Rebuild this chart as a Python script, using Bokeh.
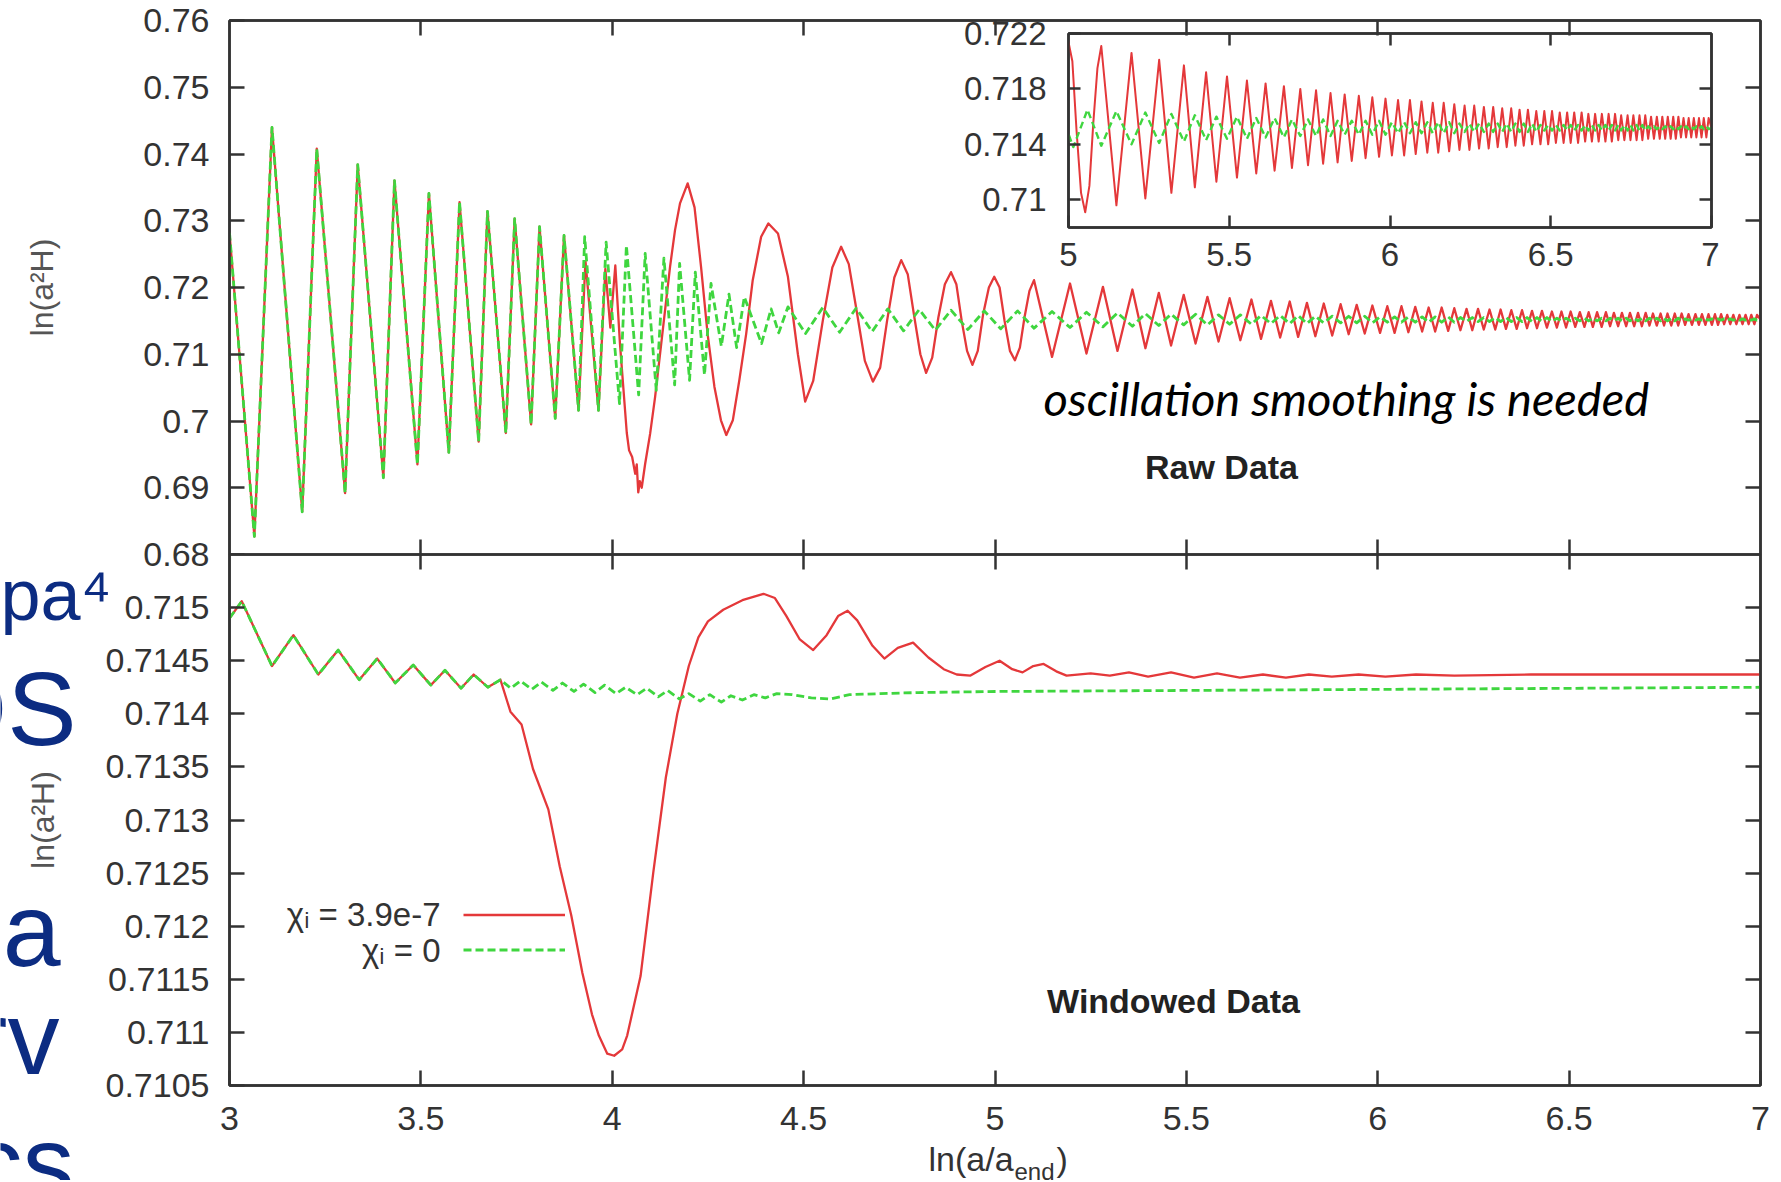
from bokeh.plotting import figure
from bokeh.models import (ColumnDataSource, FixedTicker, GridBox, Label, Legend,
                          LegendItem, LinearAxis, Range1d)
from bokeh.embed import file_html
from bokeh.resources import INLINE

# ------------------------------------------------------------------ data
# Raw data (top panel): both runs coincide up to x ~ 3.87 (extrema)
common_x = [3.000, 3.065, 3.111, 3.190, 3.228, 3.302, 3.335, 3.402, 3.431, 3.491, 3.521,
            3.573, 3.601, 3.651, 3.674, 3.722, 3.745, 3.788, 3.810, 3.851, 3.874]
common_y = [0.7282, 0.6827, 0.7440, 0.6864, 0.7408, 0.6892, 0.7384, 0.6915, 0.7360, 0.6935, 0.7341,
            0.6953, 0.7328, 0.6969, 0.7314, 0.6982, 0.7303, 0.6995, 0.7291, 0.7004, 0.7278]

# chi_i = 3.9e-7 (red) after the split
raw_red_x = [3.912, 3.930, 3.964, 3.982, 3.995, 4.008, 4.020, 4.038, 4.044, 4.052,
             4.060, 4.064, 4.068, 4.072, 4.077, 4.086, 4.099, 4.112, 4.125, 4.138,
             4.151, 4.164, 4.177, 4.197, 4.215, 4.232, 4.249, 4.267, 4.284, 4.298,
             4.315, 4.332, 4.350, 4.367, 4.389, 4.408, 4.433, 4.459, 4.485, 4.504,
             4.525, 4.550, 4.575, 4.598, 4.618, 4.640, 4.660, 4.681, 4.700, 4.718,
             4.737, 4.755, 4.772, 4.788, 4.805, 4.820, 4.836, 4.852, 4.869, 4.885,
             4.899, 4.913, 4.927, 4.941, 4.955, 4.969, 4.984, 4.998, 5.012, 5.025,
             5.039, 5.052, 5.065, 5.077, 5.090, 5.102, 5.149, 5.196, 5.239, 5.282,
             5.320, 5.359, 5.393, 5.428, 5.460, 5.493, 5.524, 5.555, 5.584, 5.613,
             5.641, 5.670, 5.695, 5.721, 5.745, 5.770, 5.792, 5.815, 5.837, 5.859]
raw_red_y = [0.7016, 0.7240, 0.7016, 0.7228, 0.7140, 0.7233, 0.7117, 0.6982, 0.6956, 0.6946,
             0.6921, 0.6935, 0.6893, 0.6910, 0.6900, 0.6936, 0.6981, 0.7036, 0.7101, 0.7166,
             0.7231, 0.7286, 0.7326, 0.7356, 0.7320, 0.7231, 0.7131, 0.7051, 0.7001, 0.6979,
             0.7001, 0.7061, 0.7131, 0.7211, 0.7276, 0.7296, 0.7281, 0.7216, 0.7100, 0.7029,
             0.7060, 0.7150, 0.7230, 0.7261, 0.7235, 0.7160, 0.7090, 0.7059, 0.7080, 0.7150,
             0.7215, 0.7241, 0.7220, 0.7160, 0.7100, 0.7072, 0.7095, 0.7155, 0.7205, 0.7223,
             0.7205, 0.7150, 0.7105, 0.7084, 0.7105, 0.7160, 0.7200, 0.7216, 0.7200, 0.7150,
             0.7105, 0.7091, 0.7110, 0.7155, 0.7195, 0.7211, 0.7096, 0.7206, 0.7101, 0.7201,
             0.7105, 0.7197, 0.7109, 0.7192, 0.7113, 0.7189, 0.7116, 0.7186, 0.7119, 0.7184,
             0.7121, 0.7182, 0.7123, 0.7180, 0.7125, 0.7179, 0.7126, 0.7177, 0.7127, 0.7176]

# chi_i = 0 (green) after the split
raw_green_x = [3.912, 3.928, 3.964, 3.984, 4.019, 4.037, 4.069, 4.086, 4.115, 4.135,
               4.163, 4.176, 4.202, 4.217, 4.241, 4.258, 4.285, 4.305, 4.325, 4.345,
               4.390, 4.415, 4.435, 4.459, 4.505, 4.550, 4.594, 4.637, 4.679, 4.720,
               4.761, 4.802, 4.844, 4.885, 4.929, 4.972, 5.015, 5.059, 5.102, 5.149,
               5.196, 5.239, 5.282, 5.320, 5.359, 5.393, 5.428, 5.460, 5.493, 5.524,
               5.555, 5.584, 5.613, 5.641, 5.670, 5.695, 5.721, 5.745, 5.770, 5.792,
               5.815, 5.837, 5.859]
raw_green_y = [0.7016, 0.7276, 0.7016, 0.7268, 0.7026, 0.7263, 0.7039, 0.7251, 0.7046, 0.7244,
               0.7054, 0.7236, 0.7061, 0.7223, 0.7069, 0.7206, 0.7112, 0.7190, 0.7110, 0.7186,
               0.7116, 0.7168, 0.7132, 0.7171, 0.7131, 0.7170, 0.7133, 0.7169, 0.7134, 0.7168,
               0.7135, 0.7167, 0.7136, 0.7166, 0.7137, 0.7165, 0.7138, 0.7165, 0.7139, 0.7164,
               0.7140, 0.7163, 0.7141, 0.7162, 0.7142, 0.7161, 0.7143, 0.7160, 0.7144, 0.7160,
               0.7144, 0.7159, 0.7145, 0.7159, 0.7145, 0.7158, 0.7146, 0.7158, 0.7146, 0.7158,
               0.7146, 0.7157, 0.7147]

# fast tail (x > 5.86): positions of the red troughs / peaks and the values of both runs there
tail_trough_x = [5.881, 5.924, 5.966, 6.006, 6.044, 6.080, 6.116, 6.150, 6.184, 6.216,
                 6.247, 6.277, 6.307, 6.335, 6.363, 6.390, 6.416, 6.442, 6.468, 6.492,
                 6.516, 6.540, 6.562, 6.585, 6.607, 6.628, 6.649, 6.670, 6.690, 6.710,
                 6.729, 6.748, 6.767, 6.785, 6.803, 6.821, 6.839, 6.856, 6.873, 6.889,
                 6.905, 6.921, 6.937, 6.953, 6.969, 6.984]
tail_peak_x = [5.903, 5.945, 5.986, 6.025, 6.062, 6.098, 6.133, 6.167, 6.200, 6.232,
               6.262, 6.292, 6.321, 6.349, 6.377, 6.403, 6.429, 6.455, 6.480, 6.504,
               6.528, 6.551, 6.573, 6.596, 6.617, 6.638, 6.659, 6.680, 6.700, 6.719,
               6.739, 6.757, 6.776, 6.794, 6.812, 6.830, 6.847, 6.864, 6.881, 6.897,
               6.913, 6.929, 6.945, 6.961, 6.976, 6.991]
red_tail_trough_y = [0.7128, 0.7130, 0.7131, 0.7132, 0.7132, 0.7133, 0.7134, 0.7134, 0.7135, 0.7136,
                     0.7136, 0.7137, 0.7137, 0.7138, 0.7138, 0.7139, 0.7139, 0.7140, 0.7140, 0.7140,
                     0.7141, 0.7141, 0.7141, 0.7141, 0.7142, 0.7142, 0.7142, 0.7142, 0.7142, 0.7143,
                     0.7143, 0.7143, 0.7143, 0.7143, 0.7144, 0.7144, 0.7144, 0.7144, 0.7144, 0.7144,
                     0.7145, 0.7145, 0.7145, 0.7145, 0.7145, 0.7145]
red_tail_peak_y = [0.7175, 0.7174, 0.7173, 0.7172, 0.7172, 0.7171, 0.7170, 0.7170, 0.7169, 0.7168,
                   0.7168, 0.7167, 0.7167, 0.7166, 0.7166, 0.7165, 0.7165, 0.7164, 0.7164, 0.7164,
                   0.7163, 0.7163, 0.7163, 0.7163, 0.7162, 0.7162, 0.7162, 0.7162, 0.7162, 0.7161,
                   0.7161, 0.7161, 0.7161, 0.7161, 0.7160, 0.7160, 0.7160, 0.7160, 0.7160, 0.7160,
                   0.7159, 0.7159, 0.7159, 0.7159, 0.7159, 0.7159]
green_tail_trough_y = [0.7157, 0.7157, 0.7157, 0.7156, 0.7156, 0.7156, 0.7156, 0.7156, 0.7156, 0.7155,
                       0.7155, 0.7155, 0.7155, 0.7155, 0.7155, 0.7155, 0.7155, 0.7155, 0.7154, 0.7154,
                       0.7154, 0.7154, 0.7154, 0.7154, 0.7154, 0.7154, 0.7154, 0.7154, 0.7154, 0.7154,
                       0.7154, 0.7154, 0.7154, 0.7154, 0.7153, 0.7153, 0.7153, 0.7153, 0.7153, 0.7153,
                       0.7153, 0.7153, 0.7153, 0.7153, 0.7153, 0.7153]
green_tail_peak_y = [0.7147, 0.7147, 0.7147, 0.7148, 0.7148, 0.7148, 0.7148, 0.7148, 0.7148, 0.7149,
                     0.7149, 0.7149, 0.7149, 0.7149, 0.7149, 0.7149, 0.7149, 0.7149, 0.7150, 0.7150,
                     0.7150, 0.7150, 0.7150, 0.7150, 0.7150, 0.7150, 0.7150, 0.7150, 0.7150, 0.7150,
                     0.7150, 0.7150, 0.7150, 0.7150, 0.7151, 0.7151, 0.7151, 0.7151, 0.7151, 0.7151,
                     0.7151, 0.7151, 0.7151, 0.7151, 0.7151, 0.7151]
raw_end_x = [7.0]
raw_red_end_y = [0.7152]
raw_green_end_y = [0.7152]

# Windowed data (bottom panel)
win_common_x = [3.000, 3.032, 3.111, 3.167, 3.232, 3.284, 3.339, 3.386, 3.433, 3.480,
                3.526, 3.563, 3.605, 3.638, 3.675, 3.708]
win_common_y = [0.71490, 0.71506, 0.71445, 0.71474, 0.71437, 0.71460, 0.71432, 0.71452, 0.71429, 0.71446,
                0.71427, 0.71441, 0.71424, 0.71437, 0.71425, 0.71432]
win_red_x = [3.734, 3.763, 3.793, 3.833, 3.863, 3.893, 3.922, 3.947, 3.965, 3.987,
             4.005, 4.026, 4.039, 4.074, 4.107, 4.140, 4.170, 4.200, 4.225, 4.250,
             4.290, 4.340, 4.395, 4.425, 4.455, 4.490, 4.525, 4.560, 4.590, 4.615,
             4.640, 4.680, 4.711, 4.746, 4.786, 4.826, 4.866, 4.900, 4.936, 4.975,
             5.012, 5.045, 5.072, 5.100, 5.127, 5.160, 5.187, 5.250, 5.300, 5.350,
             5.400, 5.460, 5.520, 5.580, 5.640, 5.700, 5.760, 5.820, 5.880, 5.950,
             6.020, 6.100, 6.200, 6.400, 7.000]
win_red_y = [0.71402, 0.71390, 0.71348, 0.71310, 0.71256, 0.71210, 0.71156, 0.71117, 0.71097, 0.71080,
             0.71078, 0.71084, 0.71097, 0.71153, 0.71250, 0.71340, 0.71400, 0.71445, 0.71472, 0.71487,
             0.71498, 0.71507, 0.71513, 0.71509, 0.71492, 0.71470, 0.71460, 0.71474, 0.71492, 0.71497,
             0.71488, 0.71464, 0.71452, 0.71462, 0.71467, 0.71453, 0.71442, 0.71437, 0.71436, 0.71444,
             0.71450, 0.71442, 0.71439, 0.71445, 0.71447, 0.71440, 0.71436, 0.71438, 0.71436, 0.71439,
             0.71435, 0.71439, 0.71434, 0.71438, 0.71434, 0.71437, 0.71434, 0.71437, 0.71435, 0.71437,
             0.71435, 0.71437, 0.71436, 0.71437, 0.71437]
win_green_x = [3.735, 3.760, 3.790, 3.815, 3.845, 3.870, 3.900, 3.925, 3.955, 3.980,
               4.010, 4.035, 4.065, 4.090, 4.120, 4.145, 4.175, 4.200, 4.230, 4.255,
               4.285, 4.310, 4.340, 4.370, 4.400, 4.430, 4.470, 4.520, 4.570, 4.620,
               4.700, 4.800, 5.000, 5.500, 6.000, 6.500, 7.000]
win_green_y = [0.71424, 0.71431, 0.71423, 0.71430, 0.71422, 0.71429, 0.71421, 0.71428, 0.71420, 0.71427,
               0.71419, 0.71425, 0.71418, 0.71424, 0.71416, 0.71422, 0.71414, 0.71419, 0.71412, 0.71418,
               0.71411, 0.71417, 0.71413, 0.71418, 0.71415, 0.71419, 0.71418, 0.71415, 0.71414, 0.71418,
               0.71419, 0.71420, 0.71421, 0.71422, 0.71423, 0.71424, 0.71425]

# ticks and labels
x_ticks = [3, 3.5, 4, 4.5, 5, 5.5, 6, 6.5, 7]
x_tick_labels = ["3", "3.5", "4", "4.5", "5", "5.5", "6", "6.5", "7"]
raw_y_ticks = [0.68, 0.69, 0.70, 0.71, 0.72, 0.73, 0.74, 0.75, 0.76]
raw_y_labels = ["0.68", "0.69", "0.7", "0.71", "0.72", "0.73", "0.74", "0.75", "0.76"]
win_y_ticks = [0.7105, 0.711, 0.7115, 0.712, 0.7125, 0.713, 0.7135, 0.714, 0.7145, 0.715]
win_y_labels = ["0.7105", "0.711", "0.7115", "0.712", "0.7125", "0.713", "0.7135", "0.714", "0.7145", "0.715"]
inset_x_ticks = [5, 5.5, 6, 6.5, 7]
inset_x_labels = ["5", "5.5", "6", "6.5", "7"]
inset_y_ticks = [0.71, 0.714, 0.718, 0.722]
inset_y_labels = ["0.71", "0.714", "0.718", "0.722"]
legend_labels = ["χᵢ = 3.9e-7", "χᵢ = 0"]

# ------------------------------------------------------------------ geometry (page pixels)
PAGE_W, PAGE_H = 1780, 1180
FRAME_L, FRAME_R = 229, 1760
TOP_T, MID, BOT_B = 20, 554, 1085
INS_L, INS_R, INS_T, INS_B = 1068, 1711, 33, 227
INS_BL, INS_BT, INS_BR, INS_BB = 110, 21, 8, 58
TOP_BB = 20

RED = "#e4383a"
GREEN = "#3fd63f"
AXC = "#333333"
FONT = "Liberation Sans"
NAVY = "#0c2c82"


def merged(xa, ya, xb, yb):
    pts = sorted(zip(list(xa) + list(xb), list(ya) + list(yb)))
    return [p[0] for p in pts], [p[1] for p in pts]


tail_x, red_tail_y = merged(tail_trough_x, red_tail_trough_y, tail_peak_x, red_tail_peak_y)
_, green_tail_y = merged(tail_trough_x, green_tail_trough_y, tail_peak_x, green_tail_peak_y)

raw_red = dict(x=common_x + raw_red_x + tail_x + raw_end_x,
               y=common_y + raw_red_y + red_tail_y + raw_red_end_y)
raw_green = dict(x=common_x + raw_green_x + tail_x + raw_end_x,
                 y=common_y + raw_green_y + green_tail_y + raw_green_end_y)
win_red = dict(x=win_common_x + win_red_x, y=win_common_y + win_red_y)
win_green = dict(x=win_common_x + win_green_x, y=win_common_y + win_green_y)


def style_axis(ax, ticks, labels=None, size="34px", standoff=20, tick_len=15):
    ax.ticker = FixedTicker(ticks=ticks)
    ax.axis_line_color = AXC
    ax.axis_line_width = 2.5
    ax.major_tick_line_color = AXC
    ax.major_tick_line_width = 2.5
    ax.major_tick_in = tick_len
    ax.major_tick_out = 0
    ax.minor_tick_line_color = None
    ax.major_label_text_font = FONT
    ax.major_label_text_font_size = size
    if labels is None:
        ax.major_label_text_color = None      # mirrored ticks only, no labels
        ax.major_label_standoff = 0
    else:
        ax.major_label_text_color = "#333333"
        ax.major_label_overrides = dict(zip(ticks, labels))
        ax.major_label_standoff = standoff


def make_fig(xr, yr, fw, fh, bl, bt, br, bb, bg="white", border=None):
    f = figure(x_range=Range1d(*xr), y_range=Range1d(*yr), frame_width=fw, frame_height=fh,
               min_border_left=bl, min_border_top=bt, min_border_right=br, min_border_bottom=bb,
               output_backend="svg", toolbar_location=None,
               background_fill_color=bg, border_fill_color=border,
               outline_line_color=AXC, outline_line_width=2.5)
    f.grid.visible = False
    return f


def y_label(ax, standoff):
    ax.axis_label = "ln(a²H)"
    ax.axis_label_text_font = FONT
    ax.axis_label_text_font_style = "normal"
    ax.axis_label_text_font_size = "32px"
    ax.axis_label_text_color = "#555555"
    ax.axis_label_standoff = standoff


def add_label(fig, conv, px, py, text, **kw):
    x, y = conv(px, py)
    opts = dict(text_font=FONT, text_font_size="34px", text_color="#222222",
                text_align="left", text_baseline="middle")
    opts.update(kw)
    fig.add_layout(Label(x=x, y=y, text=text, **opts))


def top_xy(px, py):
    return (3 + (px - FRAME_L) / (FRAME_R - FRAME_L) * 4,
            0.76 - (py - TOP_T) / (MID - TOP_T) * 0.08)


def bot_xy(px, py):
    return (3 + (px - FRAME_L) / (FRAME_R - FRAME_L) * 4,
            0.7155 - (py - MID) / (BOT_B - MID) * 0.005)


def page_xy(px, py):
    return px, PAGE_H - py


# ------------------------------------------------------------------ top panel (raw)
top = make_fig((3, 7), (0.68, 0.76), FRAME_R - FRAME_L, MID - TOP_T,
               FRAME_L, TOP_T, PAGE_W - FRAME_R, TOP_BB, border="white")
top.line("x", "y", source=ColumnDataSource(raw_red), color=RED, line_width=2.3, line_join="round")
top.line("x", "y", source=ColumnDataSource(raw_green), color=GREEN, line_width=2.8,
         line_dash="8 4", line_join="round")
style_axis(top.left[0], raw_y_ticks, raw_y_labels)
style_axis(top.below[0], x_ticks[1:-1])
ax_r = LinearAxis()
style_axis(ax_r, raw_y_ticks[1:-1])
top.add_layout(ax_r, "right")
ax_t = LinearAxis()
style_axis(ax_t, x_ticks[1:-1])
top.add_layout(ax_t, "above")
y_label(top.left[0], 80)

add_label(top, top_xy, 1043, 397, "oscillation smoothing is needed", text_font="Lato",
          text_font_style="italic", text_font_size="47px", text_color="black")
add_label(top, top_xy, 1221, 466, "Raw Data", text_font_style="bold", text_align="center")

# ------------------------------------------------------------------ bottom panel (windowed)
bot = make_fig((3, 7), (0.7105, 0.7155), FRAME_R - FRAME_L, BOT_B - MID,
               FRAME_L, 0, PAGE_W - FRAME_R, PAGE_H - BOT_B)
r_red = bot.line("x", "y", source=ColumnDataSource(win_red), color=RED, line_width=2.3,
                 line_join="round")
r_green = bot.line("x", "y", source=ColumnDataSource(win_green), color=GREEN, line_width=2.8,
                   line_dash="8 4", line_join="round")
style_axis(bot.left[0], win_y_ticks, win_y_labels)
style_axis(bot.below[0], x_ticks, x_tick_labels, standoff=21)
ax_r2 = LinearAxis()
style_axis(ax_r2, win_y_ticks[1:])
bot.add_layout(ax_r2, "right")
ax_t2 = LinearAxis()
style_axis(ax_t2, x_ticks[1:-1])
bot.add_layout(ax_t2, "above")
y_label(bot.left[0], 42)

legend = Legend(items=[LegendItem(label=" ", renderers=[r_red]),
                       LegendItem(label=" ", renderers=[r_green])],
                location=(463 - FRAME_L, BOT_B - 967),
                glyph_width=102, glyph_height=35, label_text_font_size="1px",
                label_standoff=0, label_width=1, label_height=35,
                padding=0, margin=0, spacing=0, border_line_color=None,
                background_fill_alpha=0)
bot.add_layout(legend)
add_label(bot, bot_xy, 440, 914, legend_labels[0], text_align="right", text_color="#333333",
          text_font_size="33px")
add_label(bot, bot_xy, 440, 950, legend_labels[1], text_align="right", text_color="#333333",
          text_font_size="33px")
add_label(bot, bot_xy, 1173, 1000, "Windowed Data", text_font_style="bold", text_align="center")

# ------------------------------------------------------------------ inset (raw data, 5..7)
ins = make_fig((5, 7), (0.708, 0.722), INS_R - INS_L, INS_B - INS_T,
               INS_BL, INS_BT, INS_BR, INS_BB, bg=None, border=None)
ins.line("x", "y", source=ColumnDataSource(raw_red), color=RED, line_width=2.0, line_join="round")
ins.line("x", "y", source=ColumnDataSource(raw_green), color=GREEN, line_width=2.4,
         line_dash="7 4", line_join="round")
style_axis(ins.left[0], inset_y_ticks, inset_y_labels, size="33px", standoff=22, tick_len=12)
style_axis(ins.below[0], inset_x_ticks, inset_x_labels, size="33px", standoff=15, tick_len=12)
ax_r3 = LinearAxis()
style_axis(ax_r3, inset_y_ticks[:-1], tick_len=12)
ins.add_layout(ax_r3, "right")
ax_t3 = LinearAxis()
style_axis(ax_t3, inset_x_ticks[1:-1], tick_len=12)
ins.add_layout(ax_t3, "above")

# ------------------------------------------------------------------ overlay: slide text behind the chart + x title
ov = figure(x_range=Range1d(0, PAGE_W), y_range=Range1d(0, PAGE_H), width=PAGE_W, height=PAGE_H,
            min_border=0, x_axis_location=None, y_axis_location=None, outline_line_color=None,
            output_backend="svg", toolbar_location=None, background_fill_color=None,
            border_fill_color=None)
ov.grid.visible = False
for txt, right, mid_y, fs in [("npa⁴", 111, 594, "72px"), ("OS", 76, 708, "104px"),
                              ("na", 60, 929, "104px"), ("rv", 59, 1037, "104px"),
                              ("cs", 74, 1162, "104px")]:
    add_label(ov, page_xy, right, mid_y, txt, text_align="right", text_color=NAVY,
              text_font_size=fs)
# x-axis title ln(a/a_end)
add_label(ov, page_xy, 928, 1158, "ln(a/a", text_color="#333333", text_font_size="34px")
add_label(ov, page_xy, 1014, 1171, "end", text_color="#333333", text_font_size="24px")
add_label(ov, page_xy, 1056, 1158, ")", text_color="#333333", text_font_size="34px")

# ------------------------------------------------------------------ layout (overlapping grid)
# zero-size outer tracks keep the full-page overlay out of the frame alignment of the panels
ins_left = INS_L - INS_BL
ins_top = INS_T - INS_BT
ins_h = INS_BT + (INS_B - INS_T) + INS_BB
ins_w = INS_BL + (INS_R - INS_L) + INS_BR
top_h = MID + TOP_BB
rows = [0, ins_top, ins_h, MID - ins_top - ins_h, TOP_BB, PAGE_H - top_h, 0]
cols = [0, ins_left, ins_w, PAGE_W - ins_left - ins_w, 0]
p = GridBox(children=[(top, 1, 1, 4, 3), (bot, 4, 1, 2, 3), (ins, 2, 2, 1, 1), (ov, 0, 0, 7, 5)],
            rows=[f"{r}px" for r in rows], cols=[f"{c}px" for c in cols])

open("out.html", "w").write(file_html(p, INLINE))
